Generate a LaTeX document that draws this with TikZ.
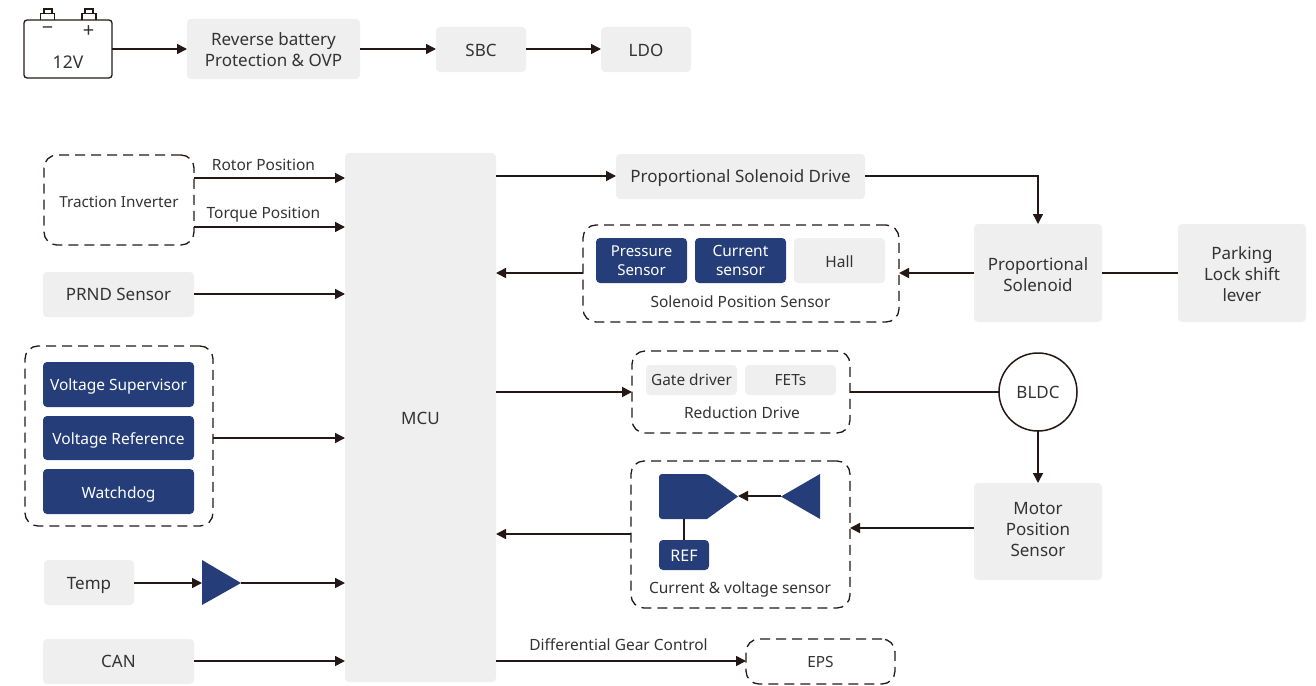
\documentclass[tikz,border=0pt]{standalone}
\usepackage{fontspec}
\setmainfont{Noto Sans}
\usetikzlibrary{arrows.meta}
\definecolor{navy}{HTML}{253E7A}
\definecolor{pale}{HTML}{EFEFEF}
\definecolor{ink}{HTML}{231815}
\definecolor{txt}{HTML}{333333}
\newcommand{\dn}[2]{\raisebox{-#1pt}[\height][\depth]{#2}}
\tikzset{
  base/.style={inner sep=0pt,outer sep=0pt,align=center,text=txt,font=\fontsize{17}{21}\selectfont},
  grey/.style={base,fill=pale,rounded corners=4pt},
  blue/.style={base,fill=navy,text=white,rounded corners=4pt,font=\fontsize{15.5}{19}\selectfont},
  dash box/.style={base,draw=ink,line width=1.3pt,dash pattern=on 10pt off 6pt,rounded corners=13pt},
  lbl/.style={inner sep=0pt,outer sep=0pt,text=txt,font=\fontsize{15.5}{18}\selectfont},
  arr/.style={draw=ink,line width=1.5pt,-{Triangle[length=10pt,width=10pt]}},
  lin/.style={draw=ink,line width=1.5pt},
}
\newcommand{\bx}[7][]{\node[#7,#1,minimum width={(#4-#2)*1pt},minimum height={(#5-#3)*1pt}] (#6) at ({(#2+#4)/2},{(#3+#5)/2})}
\begin{document}
\begin{tikzpicture}[x=1pt,y=-1pt]
\useasboundingbox (0,0) rectangle (1316,685);
% battery
\draw[ink,line width=1.2pt] (40.5,20) -- (40.5,13.5) -- (54.5,13.5) -- (54.5,20) (44,13.5) -- (44,9) -- (52,9) -- (52,13.5);
\draw[ink,line width=1.2pt] (82,20) -- (82,13.5) -- (96,13.5) -- (96,20) (85,13.5) -- (85,9) -- (93,9) -- (93,13.5);
\bx{24}{20}{112}{78}{batt}{base,draw=ink,line width=1.3pt,rounded corners=3pt}{};
\node[lbl,font=\fontsize{17.5}{20}\selectfont] (v12) at (68,62.5) {12V};
\node[lbl,font=\fontsize{20}{20}\selectfont] (minus) at (47.5,30.5) {−};
\node[lbl,font=\fontsize{20}{20}\selectfont] (plus) at (88.5,31.5) {+};
% top chain
\bx{187}{19}{360}{79}{rev}{grey}{\dn{1}{Reverse battery}\\\dn{1}{Protection \& OVP}};
\bx{436}{27}{526}{72}{sbc}{grey}{\dn{1}{SBC}};
\bx{601}{27}{691}{72}{ldo}{grey}{\dn{1}{LDO}};
\draw[arr] (batt.east|-0,49) -- (rev.west|-0,49);
\draw[arr] (rev.east|-0,49) -- (sbc.west|-0,49);
\draw[arr] (sbc.east|-0,49) -- (ldo.west|-0,49);
% MCU
\bx{345}{153}{496}{682}{mcu}{grey}{\dn{1}{MCU}};
% left side
\bx{44}{155}{194}{245}{trac}{dash box,font=\fontsize{15.25}{18}\selectfont}{\dn{2}{Traction Inverter}};
\bx{43}{272}{194}{317}{prnd}{grey}{PRND Sensor};
\bx{25}{346}{213}{526}{grp}{dash box}{};
\bx{43}{362}{194}{407}{vs}{blue}{\dn{2}{Voltage Supervisor}};
\bx{43}{416}{194}{460}{vr}{blue}{\dn{2}{Voltage Reference}};
\bx{43}{469}{194}{514}{wd}{blue}{\dn{3}{Watchdog}};
\bx{44}{560}{134}{605}{temp}{grey}{\dn{3}{Temp}};
\bx{43}{639}{194}{684}{can}{grey}{CAN};
\coordinate (ta) at (202,583);
\coordinate (tb) at (241,583);
\fill[navy] (202,560) -- (241,583) -- (202,605) -- cycle;
\draw[arr] (trac.east|-0,178) -- (mcu.west|-0,178) node[lbl,pos=.46,above=7pt] (rp) {Rotor Position};
\draw[arr] (trac.east|-0,227) -- (mcu.west|-0,227) node[lbl,pos=.46,above=5pt] (tp) {Torque Position};
\draw[arr] (prnd.east|-0,294) -- (mcu.west|-0,294);
\draw[arr] (grp.east|-0,438) -- (mcu.west|-0,438);
\draw[arr] (temp.east|-ta) -- (ta);
\draw[arr] (tb) -- (mcu.west|-tb);
\draw[arr] (can.east|-0,661) -- (mcu.west|-0,661);
% right side
\bx{616}{154}{865}{199}{psd}{grey}{\dn{2}{Proportional Solenoid Drive}};
\bx{974}{224}{1102}{322}{ps}{grey}{\dn{2}{Proportional}\\\dn{2}{Solenoid}};
\bx{1178}{224}{1306}{322}{lever}{grey}{\dn{1}{Parking}\\\dn{1}{Lock shift}\\\dn{1.5}{lever}};
\bx{583}{225}{899}{322}{sps}{dash box}{};
\bx{596}{238}{687}{283}{press}{blue,font=\fontsize{15}{19}\selectfont}{Pressure\\Sensor};
\bx{695}{238}{786}{283}{curr}{blue}{Current\\sensor};
\bx{794}{238}{885}{283}{hall}{grey,font=\fontsize{15.5}{19}\selectfont}{\dn{1}{Hall}};
\node[lbl] (spl) at (740.5,301.5) {Solenoid Position Sensor};
\draw[arr] (mcu.east|-0,176) -- (psd.west|-0,176);
\draw[arr] (psd.east|-0,176) -| (ps.north);
\draw[lin] (ps.east|-0,273) -- (lever.west|-0,273);
\draw[arr] (ps.west|-0,273) -- (sps.east|-0,273);
\draw[arr] (sps.west|-0,273) -- (mcu.east|-0,273);
\bx{632}{351}{850}{433}{red}{dash box}{};
\bx{646}{365}{737}{395}{gate}{grey,font=\fontsize{15.4}{18}\selectfont}{Gate driver};
\bx{745}{365}{836}{395}{fet}{grey,font=\fontsize{15.4}{18}\selectfont}{FETs};
\node[lbl] (rdl) at (742,413) {Reduction Drive};
\node[base,draw=ink,line width=1.5pt,circle,minimum size=78pt] (bldc) at (1038,392) {BLDC};
\bx{974}{483}{1102}{580}{mps}{grey}{\dn{-2}{Motor}\\\dn{-2}{Position}\\\dn{-2}{Sensor}};
\draw[arr] (mcu.east|-0,392) -- (red.west|-0,392);
\draw[lin] (red.east|-bldc) -- (bldc.west);
\draw[arr] (bldc.south) -- (mps.north);
\bx{631}{461}{850}{608}{cvs}{dash box}{};
\coordinate (ampTip) at (738,496);
\coordinate (triTip) at (781,496);
\coordinate (ampBot) at (684,519);
\fill[navy,rounded corners=3pt] (659,474) -- (707,474) [sharp corners] -- (738,496.5) -- (707,519) [rounded corners=3pt] -- (659,519) -- cycle;
\fill[navy] (781,496.5) -- (820,474) -- (820,519) -- cycle;
\bx{659}{540}{709}{570}{ref}{blue,font=\fontsize{16}{18}\selectfont}{\dn{1}{REF}};
\draw[arr] (triTip) -- (ampTip);
\draw[lin] (ampBot) -- (ref.north-|ampBot);
\node[lbl] (cvl) at (740,589) {Current \& voltage sensor};
\draw[arr] (mps.west|-0,528) -- (cvs.east|-0,528);
\draw[arr] (cvs.west|-0,534) -- (mcu.east|-0,534);
\bx{746}{639}{895}{684}{eps}{dash box,font=\fontsize{15.4}{18}\selectfont}{EPS};
\draw[arr] (mcu.east|-0,661) -- (eps.west|-0,661) node[lbl,pos=.49,above=10pt] (dgc) {Differential Gear Control};
\end{tikzpicture}
\end{document}
